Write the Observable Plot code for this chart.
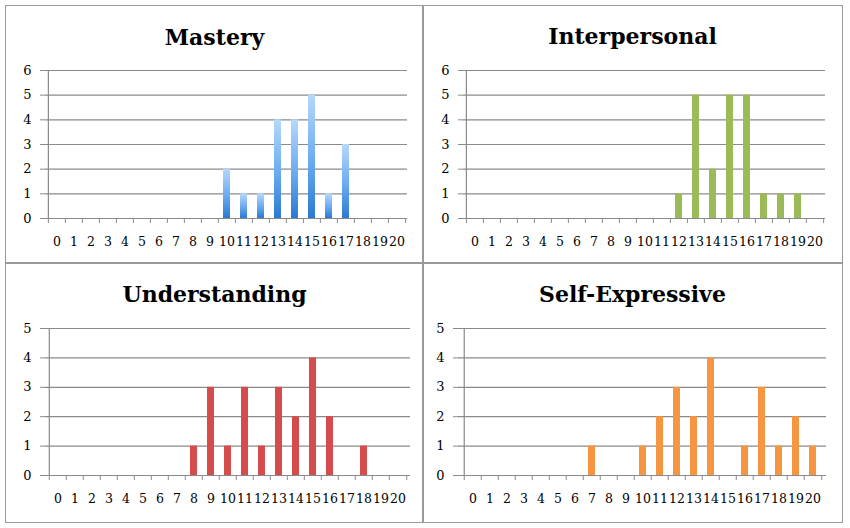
<!DOCTYPE html>
<html>
<head>
<meta charset="utf-8">
<script src="https://cdn.jsdelivr.net/npm/d3@7"></script>
<script src="https://cdn.jsdelivr.net/npm/@observablehq/plot@0.6"></script>
<style>
  html, body { margin: 0; padding: 0; background: #fff; }
  #root { position: relative; width: 850px; height: 528px; overflow: hidden; }
  .panel { position: absolute; box-sizing: border-box; }
  .title { position: absolute; left: 0; right: 0; text-align: center; font-family: "DejaVu Serif", serif; font-weight: bold; font-size: 22px; color: #000; }
  .frame { position: absolute; border: 1.5px solid #9a9a9a; box-sizing: border-box; }
  .line { position: absolute; background: #9a9a9a; }
  svg text { font-family: "DejaVu Serif", serif; }
</style>
</head>
<body>
<div id="root"></div>
<script>
// ---- data ----
const scores = d3.range(0, 21);           // 0..20 categories
const tickLabels = scores.map(String);

const masteryCounts       = [0,0,0,0,0,0,0,0,0,0,2,1,1,4,4,5,1,3,0,0,0];
const interpersonalCounts = [0,0,0,0,0,0,0,0,0,0,0,0,1,5,2,5,5,1,1,1,0];
const understandingCounts = [0,0,0,0,0,0,0,0,1,3,1,3,1,3,2,4,2,0,1,0,0];
const selfExpressiveCounts= [0,0,0,0,0,0,0,1,0,0,1,2,3,2,4,0,1,3,1,2,1];

const titles = ["Mastery", "Interpersonal", "Understanding", "Self-Expressive"];
const yMax = [6, 6, 5, 5];

// ---- layout ----
const panels = [
  {title: titles[0], counts: masteryCounts, ymax: yMax[0], fill: "url(#blueGrad)",
   left: 6, top: 6, width: 417, height: 257, mL: 39, mR: 16, mT: 64, mB: 45, titleTop: 18},
  {title: titles[1], counts: interpersonalCounts, ymax: yMax[1], fill: "#9bbb59",
   left: 423, top: 6, width: 419, height: 257, mL: 40, mR: 17, mT: 64, mB: 45, titleTop: 17},
  {title: titles[2], counts: understandingCounts, ymax: yMax[2], fill: "#d44c4c",
   left: 6, top: 263, width: 417, height: 259, mL: 39, mR: 13, mT: 65, mB: 47, titleTop: 18},
  {title: titles[3], counts: selfExpressiveCounts, ymax: yMax[3], fill: "#f79640",
   left: 423, top: 263, width: 419, height: 259, mL: 35, mR: 16, mT: 65, mB: 47, titleTop: 18}
];

const root = document.getElementById("root");
const gray = "#8a8a8a";

for (const p of panels) {
  const div = document.createElement("div");
  div.className = "panel";
  Object.assign(div.style, {left: p.left + "px", top: p.top + "px", width: p.width + "px", height: p.height + "px"});
  const t = document.createElement("div");
  t.className = "title";
  t.style.top = p.titleTop + "px";
  t.textContent = p.title;
  div.appendChild(t);

  const data = scores.map((s, i) => ({score: s, count: p.counts[i]}));
  const plotW = p.width - p.mL - p.mR;
  const bw = plotW / scores.length;
  const tickLen = 5 / ((p.height - p.mT - p.mB) / p.ymax); // 5px in data units

  const chart = Plot.plot({
    width: p.width,
    height: p.height,
    marginLeft: p.mL, marginRight: p.mR, marginTop: p.mT, marginBottom: p.mB,
    style: {background: "transparent", fontFamily: "DejaVu Serif, serif", overflow: "visible"},
    x: {type: "band", domain: scores, paddingInner: 0.6, paddingOuter: 0.3, align: 0.5},
    y: {domain: [0, p.ymax], ticks: d3.range(0, p.ymax + 1)},
    marks: [
      Plot.gridY(d3.range(1, p.ymax + 1), {stroke: gray, strokeOpacity: 1, strokeWidth: 1.2}),
      Plot.barY(data, {x: "score", y: "count", fill: p.fill}),
      Plot.ruleY([0], {stroke: gray, strokeWidth: 1.2}),
      // left axis line
      Plot.ruleX([scores[0]], {x: d => d, y1: 0, y2: p.ymax, dx: -bw / 2, stroke: gray, strokeWidth: 1.2}),
      // x boundary ticks
      Plot.ruleX(scores, {x: d => d, y1: 0, y2: -tickLen, dx: -bw / 2, stroke: gray, strokeWidth: 1}),
      Plot.ruleX([scores[scores.length - 1]], {x: d => d, y1: 0, y2: -tickLen, dx: bw / 2, stroke: gray, strokeWidth: 1}),
      Plot.axisY(d3.range(0, p.ymax + 1), {tickSize: 5, tickPadding: 9, stroke: gray, fontSize: 13, fill: "#000", label: null}),
      Plot.axisX(scores, {tickSize: 0, tickPadding: 19, fontSize: 12.5, fill: "#000", label: null, tickFormat: (d, i) => tickLabels[i]})
    ]
  });
  chart.style.position = "absolute";
  chart.style.left = "0px";
  chart.style.top = "0px";
  if (p.fill.startsWith("url")) {
    const ns = "http://www.w3.org/2000/svg";
    const defs = document.createElementNS(ns, "defs");
    defs.innerHTML = `<linearGradient id="blueGrad" x1="0" y1="0" x2="0" y2="1">
        <stop offset="0%" stop-color="#b6d8fb"/>
        <stop offset="55%" stop-color="#6aaaf0"/>
        <stop offset="100%" stop-color="#2a7ad0"/>
      </linearGradient>`;
    chart.insertBefore(defs, chart.firstChild);
  }
  div.appendChild(chart);
  root.appendChild(div);
}

// frame lines
const frame = document.createElement("div");
frame.className = "frame";
Object.assign(frame.style, {left: "5px", top: "5px", width: "838px", height: "518px"});
root.appendChild(frame);
const vline = document.createElement("div");
vline.className = "line";
Object.assign(vline.style, {left: "422px", top: "5px", width: "1.5px", height: "518px"});
root.appendChild(vline);
const hline = document.createElement("div");
hline.className = "line";
Object.assign(hline.style, {left: "5px", top: "262px", width: "838px", height: "1.5px"});
root.appendChild(hline);
</script>
</body>
</html>
